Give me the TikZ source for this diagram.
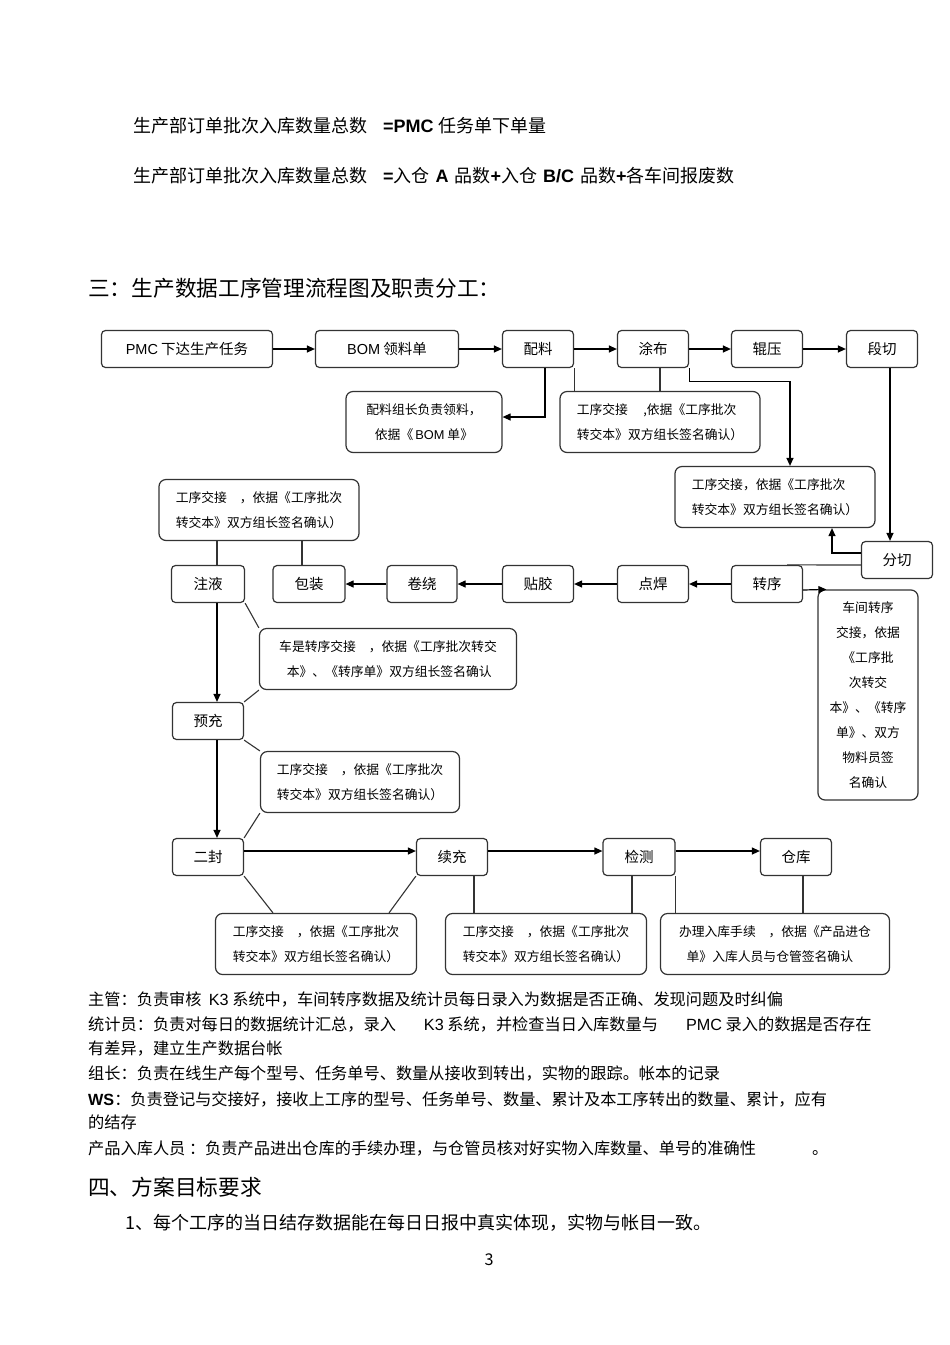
\documentclass[tikz,border=0pt]{standalone}
\usepackage{fontspec}
\setmainfont{Noto Sans CJK SC}
\newfontfamily\latinfont{Liberation Sans}
\usepackage{tikz}
\usetikzlibrary{arrows.meta, positioning, calc}
\definecolor{linec}{HTML}{333333}
\newcommand{\lb}[1]{{\latinfont\bfseries #1}}
\newcommand{\lt}[1]{{\latinfont #1}}

\begin{document}
\begin{tikzpicture}[x=1pt, y=-1pt,
    stepbox/.style={draw=linec, line width=1.2pt, rounded corners=4pt,
                    minimum height=37pt, inner sep=2pt,
                    font=\fontsize{14.5}{16}\selectfont},
    notebox/.style={draw=linec, line width=1.2pt, rounded corners=7pt,
                    minimum height=61pt, inner sep=4pt, align=left,
                    font=\fontsize{12.8}{25}\selectfont},
    flow/.style={-{Triangle[length=8pt,width=7pt]}, line width=1.2pt},
    link/.style={line width=1.1pt, draw=linec},
    bodytext/.style={anchor=west, inner sep=0pt, font=\fontsize{16.2}{18}\selectfont},
    formtext/.style={anchor=west, inner sep=0pt, font=\fontsize{18}{20}\selectfont},
    headtext/.style={anchor=west, inner sep=0pt, font=\fontsize{21.7}{23}\selectfont}]
    \fill[white] (0,0) rectangle (950,1345);
    \path[use as bounding box] (0,0) rectangle (950,1345);

    % formulas at the top
    \node[formtext] (sum1) at (133,126) {生产部订单批次入库数量总数};
    \node[formtext] (eq1) at (383,126) {\lb{=PMC}\hspace{5pt}任务单下单量};
    \node[formtext] (sum2) at (133,176) {生产部订单批次入库数量总数};
    \node[formtext] (eq2) at (383,176) {\lb{=}入仓\hspace{6pt}\lb{A}\hspace{6pt}品数\lb{+}入仓\hspace{6pt}\lb{B/C}\hspace{6pt}品数\lb{+}各车间报废数};
    \node[headtext] (title3) at (88,288) {三：生产数据工序管理流程图及职责分工：};

    % first row
    \node[stepbox, minimum width=171pt] (pmc) at (187,349) {\lt{PMC}\ 下达生产任务};
    \node[stepbox, minimum width=143pt] (bom) at (387,349) {\lt{BOM}\ 领料单};
    \node[stepbox, minimum width=71pt] (peiliao) at (538,349) {配料};
    \node[stepbox, minimum width=71pt] (tubu) at (653,349) {涂布};
    \node[stepbox, minimum width=71pt] (gunya) at (767,349) {辊压};
    \node[stepbox, minimum width=71pt] (duanqie) at (882,349) {段切};
    \draw[flow] (pmc) -- (bom);
    \draw[flow] (bom) -- (peiliao);
    \draw[flow] (peiliao) -- (tubu);
    \draw[flow] (tubu) -- (gunya);
    \draw[flow] (gunya) -- (duanqie);

    \node[notebox, minimum width=156pt, align=center] (n1) at (424,422)
        {配料组长负责领料，\\依据《\,\lt{BOM}\ 单》};
    \node[notebox, minimum width=200pt] (n2) at (660,422)
        {工序交接\hspace{1.2em},依据《工序批次\\转交本》双方组长签名确认）};
    \node[notebox, minimum width=200pt] (n3) at (775,497)
        {工序交接，依据《工序批次\\转交本》双方组长签名确认）};
    \draw[flow] ([xshift=7pt]peiliao.south) |- ([yshift=5pt]n1.east);
    \draw[link] (peiliao.south east) -- (peiliao.south east |- n2.north);
    \draw[link] ([xshift=7pt]tubu.south) -- ([xshift=7pt]tubu.south |- n2.north);
    \draw[flow] (tubu.south east) -- ++(0,13) -| ([xshift=15pt]n3.north);

    % second row, right to left
    \node[stepbox, minimum width=71pt] (fenqie) at (897,560) {分切};
    \node[stepbox, minimum width=71pt] (zhuanxu) at (767,584) {转序};
    \node[stepbox, minimum width=71pt] (dianhan) at (653,584) {点焊};
    \node[stepbox, minimum width=71pt] (tiejiao) at (538,584) {贴胶};
    \node[stepbox, minimum width=70pt] (juanrao) at (422,584) {卷绕};
    \node[stepbox, minimum width=72pt] (baozhuang) at (309,584) {包装};
    \node[stepbox, minimum width=73pt] (zhuye) at (208,584) {注液};
    \draw[flow] ([xshift=8pt]duanqie.south) -- ([xshift=8pt]duanqie.south |- fenqie.north);
    \draw[flow] ([yshift=7pt]fenqie.west) -| ([xshift=57pt]n3.south);
    \draw[link] ([yshift=-5pt]fenqie.west) -- ([xshift=20pt]zhuanxu.north);
    \draw[flow] (zhuanxu) -- (dianhan);
    \draw[flow] (dianhan) -- (tiejiao);
    \draw[flow] (tiejiao) -- (juanrao);
    \draw[flow] (juanrao) -- (baozhuang);

    \node[notebox, minimum width=100pt, minimum height=210pt, align=center] (n4) at (868,695)
        {车间转序\\交接，依据\\《工序批\\次转交\\本》、《转序\\单》、双方\\物料员签\\名确认};
    \draw[flow] ([yshift=-6pt]zhuanxu.east) -- ([xshift=9pt]n4.north west);

    \node[notebox, minimum width=200pt] (n5) at (259,510)
        {工序交接\hspace{1em}，依据《工序批次\\转交本》双方组长签名确认）};
    \draw[link] ([xshift=9pt]zhuye.north) -- ([xshift=9pt]zhuye.north |- n5.south);
    \draw[link] ([xshift=-7pt]baozhuang.north) -- ([xshift=-7pt]baozhuang.north |- n5.south);

    % left column going down
    \node[stepbox, minimum width=71pt] (yuchong) at (208,721) {预充};
    \node[stepbox, minimum width=71pt] (erfeng) at (208,857) {二封};
    \draw[flow] ([xshift=9pt]zhuye.south) -- ([xshift=9pt]yuchong.north);
    \draw[flow] ([xshift=9pt]yuchong.south) -- ([xshift=9pt]erfeng.north);

    \node[notebox, minimum width=257pt] (n6) at (388,659)
        {车是转序交接\hspace{1em}，依据《工序批次转交\\\hspace*{0.6em}本》、《转序单》双方组长签名确认};
    \node[notebox, minimum width=199pt] (n7) at (360,782)
        {工序交接\hspace{1em}，依据《工序批次\\转交本》双方组长签名确认）};
    \draw[link] (zhuye.south east) -- (n6.north west);
    \draw[link] (n6.south west) -- (yuchong.north east);
    \draw[link] (yuchong.south east) -- (n7.north west);
    \draw[link] (n7.south west) -- (erfeng.north east);

    % third row
    \node[stepbox, minimum width=71pt] (xuchong) at (452,857) {续充};
    \node[stepbox, minimum width=72pt] (jiance) at (639,857) {检测};
    \node[stepbox, minimum width=71pt] (cangku) at (796,857) {仓库};
    \draw[flow] ([yshift=6pt]erfeng.east) -- ([yshift=6pt]xuchong.west);
    \draw[flow] ([yshift=6pt]xuchong.east) -- ([yshift=6pt]jiance.west);
    \draw[flow] ([yshift=6pt]jiance.east) -- ([yshift=6pt]cangku.west);

    \node[notebox, minimum width=201pt] (n8) at (316,944)
        {工序交接\hspace{1em}，依据《工序批次\\转交本》双方组长签名确认）};
    \node[notebox, minimum width=201pt] (n9) at (546,944)
        {工序交接\hspace{1em}，依据《工序批次\\转交本》双方组长签名确认）};
    \node[notebox, minimum width=229pt] (n10) at (775,944)
        {办理入库手续\hspace{1em}，依据《产品进仓\\\hspace*{0.6em}单》入库人员与仓管签名确认};
    \draw[link] (erfeng.south east) -- ([xshift=-43pt]n8.north);
    \draw[link] (xuchong.south west) -- ([xshift=73pt]n8.north);
    \draw[link] ([xshift=22pt]xuchong.south) -- ([xshift=22pt]xuchong.south |- n9.north);
    \draw[link] ([xshift=-7pt]jiance.south) -- ([xshift=-7pt]jiance.south |- n9.north);
    \draw[link] (jiance.south east) -- (jiance.south east |- n10.north);
    \draw[link] ([xshift=7pt]cangku.south) -- ([xshift=7pt]cangku.south |- n10.north);

    % duties and goals
    \node[bodytext] (duty1) at (88,999) {主管：负责审核\ \ \lt{K3}\ 系统中，车间转序数据及统计员每日录入为数据是否正确、发现问题及时纠偏};
    \node[bodytext] (duty2) at (88,1024) {统计员：负责对每日的数据统计汇总，录入\hspace{28pt}\lt{K3}\ 系统，并检查当日入库数量与\hspace{28pt}\lt{PMC}\ 录入的数据是否存在};
    \node[bodytext] (duty2b) at (88,1048) {有差异，建立生产数据台帐};
    \node[bodytext] (duty3) at (88,1073) {组长：负责在线生产每个型号、任务单号、数量从接收到转出，实物的跟踪。帐本的记录};
    \node[bodytext] (duty4) at (88,1099) {\lb{WS}：负责登记与交接好，接收上工序的型号、任务单号、数量、累计及本工序转出的数量、累计，应有};
    \node[bodytext] (duty4b) at (88,1122) {的结存};
    \node[bodytext] (duty5) at (88,1148) {产品入库人员\ ：负责产品进出仓库的手续办理，与仓管员核对好实物入库数量、单号的准确性\hspace{56pt}。};
    \node[headtext] (title4) at (88,1187) {四、方案目标要求};
    \node[formtext] (goal1) at (125,1223) {1、每个工序的当日结存数据能在每日日报中真实体现，实物与帐目一致。};
    \node[bodytext, anchor=center] (page) at (489,1260) {3};
\end{tikzpicture}
\end{document}
